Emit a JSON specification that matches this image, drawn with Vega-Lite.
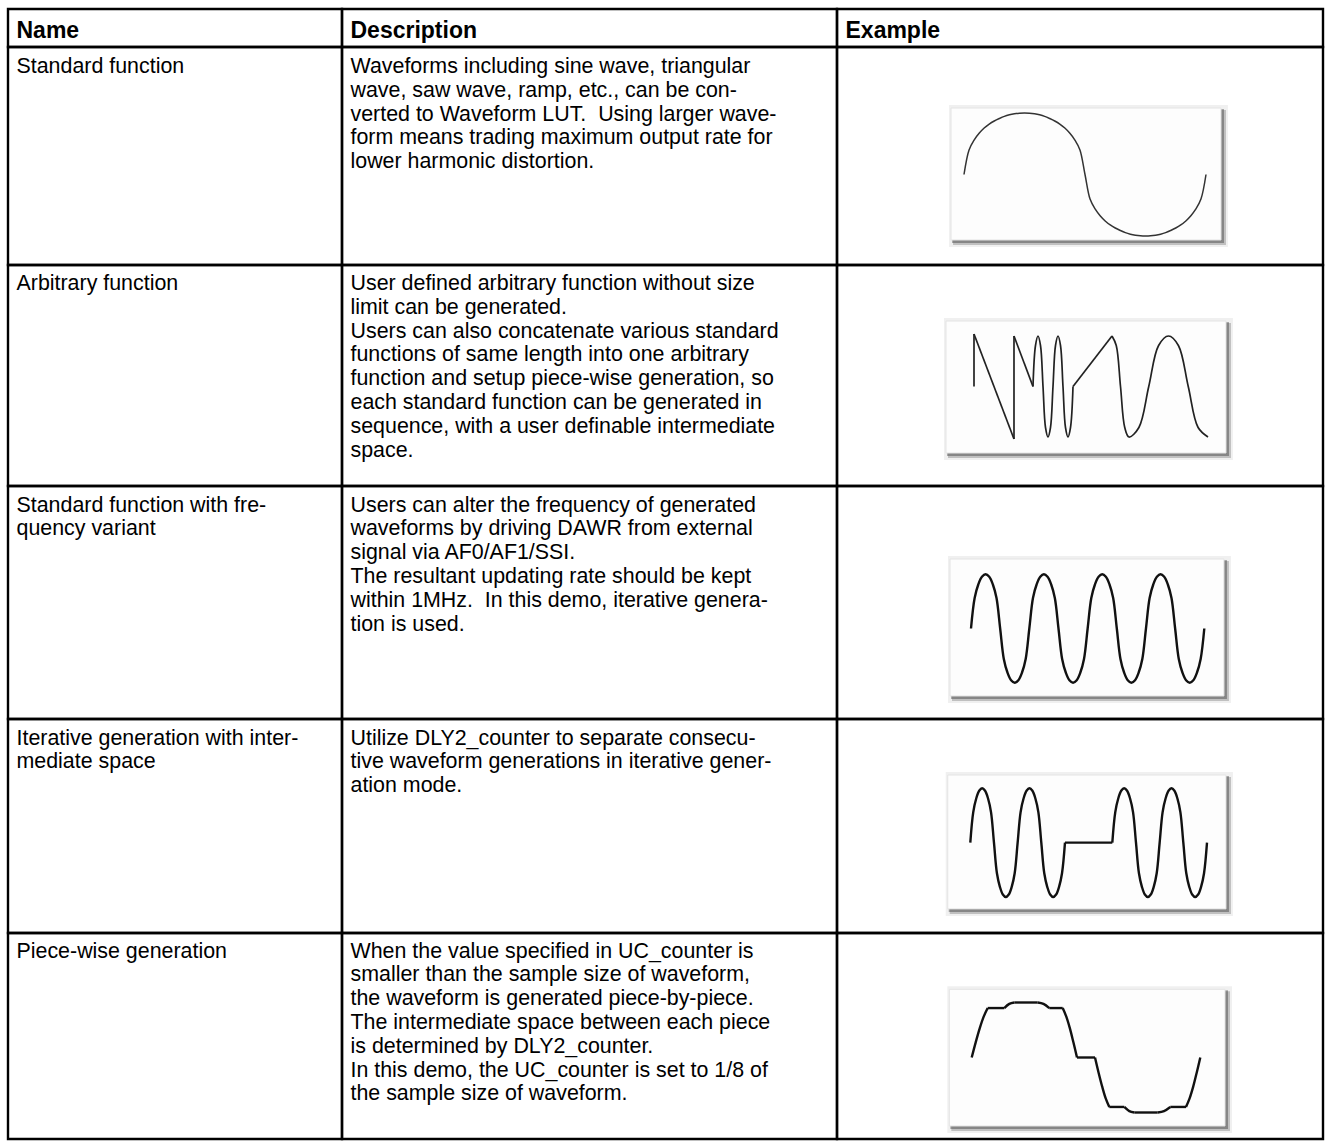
{
  "$schema": "https://vega.github.io/schema/vega-lite/v6.json",
  "background": "white",
  "padding": {"left": 6, "top": 7, "right": 6, "bottom": 6},
  "columns": 3,
  "spacing": 0,
  "bounds": "flush",
  "align": "each",
  "resolve": {"scale": {"x": "independent", "y": "independent"}},
  "config": {
    "view": {"stroke": "#000", "strokeWidth": 2.4},
    "axis": {"disable": true},
    "concat": {"spacing": 0},
    "text": {"font": "Liberation Sans", "fontSize": 21.4, "align": "left", "baseline": "middle", "color": "#000"}
  },
  "datasets": {
    "cells": [
      {"r": 0, "c": "n", "ln": 0, "tx": "Name"},
      {"r": 0, "c": "d", "ln": 0, "tx": "Description"},
      {"r": 0, "c": "e", "ln": 0, "tx": "Example"},
      {"r": 1, "c": "n", "ln": 0, "tx": "Standard function"},
      {"r": 1, "c": "d", "ln": 0, "tx": "Waveforms including sine wave, triangular"},
      {"r": 1, "c": "d", "ln": 1, "tx": "wave, saw wave, ramp, etc., can be con-"},
      {"r": 1, "c": "d", "ln": 2, "tx": "verted to Waveform LUT.\u00a0 Using larger wave-"},
      {"r": 1, "c": "d", "ln": 3, "tx": "form means trading maximum output rate for"},
      {"r": 1, "c": "d", "ln": 4, "tx": "lower harmonic distortion."},
      {"r": 2, "c": "n", "ln": 0, "tx": "Arbitrary function"},
      {"r": 2, "c": "d", "ln": 0, "tx": "User defined arbitrary function without size"},
      {"r": 2, "c": "d", "ln": 1, "tx": "limit can be generated."},
      {"r": 2, "c": "d", "ln": 2, "tx": "Users can also concatenate various standard"},
      {"r": 2, "c": "d", "ln": 3, "tx": "functions of same length into one arbitrary"},
      {"r": 2, "c": "d", "ln": 4, "tx": "function and setup piece-wise generation, so"},
      {"r": 2, "c": "d", "ln": 5, "tx": "each standard function can be generated in"},
      {"r": 2, "c": "d", "ln": 6, "tx": "sequence, with a user definable intermediate"},
      {"r": 2, "c": "d", "ln": 7, "tx": "space."},
      {"r": 3, "c": "n", "ln": 0, "tx": "Standard function with fre-"},
      {"r": 3, "c": "n", "ln": 1, "tx": "quency variant"},
      {"r": 3, "c": "d", "ln": 0, "tx": "Users can alter the frequency of generated"},
      {"r": 3, "c": "d", "ln": 1, "tx": "waveforms by driving DAWR from external"},
      {"r": 3, "c": "d", "ln": 2, "tx": "signal via AF0/AF1/SSI."},
      {"r": 3, "c": "d", "ln": 3, "tx": "The resultant updating rate should be kept"},
      {"r": 3, "c": "d", "ln": 4, "tx": "within 1MHz.\u00a0 In this demo, iterative genera-"},
      {"r": 3, "c": "d", "ln": 5, "tx": "tion is used."},
      {"r": 4, "c": "n", "ln": 0, "tx": "Iterative generation with inter-"},
      {"r": 4, "c": "n", "ln": 1, "tx": "mediate space"},
      {"r": 4, "c": "d", "ln": 0, "tx": "Utilize DLY2_counter to separate consecu-"},
      {"r": 4, "c": "d", "ln": 1, "tx": "tive waveform generations in iterative gener-"},
      {"r": 4, "c": "d", "ln": 2, "tx": "ation mode."},
      {"r": 5, "c": "n", "ln": 0, "tx": "Piece-wise generation"},
      {"r": 5, "c": "d", "ln": 0, "tx": "When the value specified in UC_counter is"},
      {"r": 5, "c": "d", "ln": 1, "tx": "smaller than the sample size of waveform,"},
      {"r": 5, "c": "d", "ln": 2, "tx": "the waveform is generated piece-by-piece."},
      {"r": 5, "c": "d", "ln": 3, "tx": "The intermediate space between each piece"},
      {"r": 5, "c": "d", "ln": 4, "tx": "is determined by DLY2_counter."},
      {"r": 5, "c": "d", "ln": 5, "tx": "In this demo, the UC_counter is set to 1/8 of"},
      {"r": 5, "c": "d", "ln": 6, "tx": "the sample size of waveform."}
    ],
    "w1": [
      {"t": 0, "v": 0}, {"t": 7.5, "v": 0.4}, {"t": 15, "v": 0.56}, {"t": 22.5, "v": 0.67}, {"t": 30, "v": 0.755}, {"t": 37.5, "v": 0.82},
      {"t": 45, "v": 0.87}, {"t": 52.5, "v": 0.91}, {"t": 60, "v": 0.945}, {"t": 67.5, "v": 0.97}, {"t": 75, "v": 0.987}, {"t": 82.5, "v": 0.997},
      {"t": 90, "v": 1}, {"t": 97.5, "v": 0.997}, {"t": 105, "v": 0.987}, {"t": 112.5, "v": 0.97}, {"t": 120, "v": 0.945}, {"t": 127.5, "v": 0.91},
      {"t": 135, "v": 0.87}, {"t": 142.5, "v": 0.82}, {"t": 150, "v": 0.755}, {"t": 157.5, "v": 0.67}, {"t": 165, "v": 0.56}, {"t": 172.5, "v": 0.4},
      {"t": 180, "v": 0}, {"t": 187.5, "v": -0.4}, {"t": 195, "v": -0.56}, {"t": 202.5, "v": -0.67}, {"t": 210, "v": -0.755}, {"t": 217.5, "v": -0.82},
      {"t": 225, "v": -0.87}, {"t": 232.5, "v": -0.91}, {"t": 240, "v": -0.945}, {"t": 247.5, "v": -0.97}, {"t": 255, "v": -0.987}, {"t": 262.5, "v": -0.997},
      {"t": 270, "v": -1}, {"t": 277.5, "v": -0.997}, {"t": 285, "v": -0.987}, {"t": 292.5, "v": -0.97}, {"t": 300, "v": -0.945}, {"t": 307.5, "v": -0.91},
      {"t": 315, "v": -0.87}, {"t": 322.5, "v": -0.82}, {"t": 330, "v": -0.755}, {"t": 337.5, "v": -0.67}, {"t": 345, "v": -0.56}, {"t": 352.5, "v": -0.4},
      {"t": 360, "v": 0}
    ],
    "w2": [
      {"s": 1, "t": 0, "v": 0}, {"s": 1, "t": 0, "v": 1.04},
      {"s": 2, "t": 0, "v": 1.04}, {"s": 2, "t": 17.09, "v": -1.04},
      {"s": 3, "t": 17.09, "v": -1.04}, {"s": 3, "t": 17.09, "v": 1.0},
      {"s": 4, "t": 17.09, "v": 1.0}, {"s": 4, "t": 25.21, "v": 0},
      {"s": 5, "t": 25.21, "v": 0}, {"s": 5, "t": 26.28, "v": 0.812}, {"s": 5, "t": 27.35, "v": 1}, {"s": 5, "t": 28.42, "v": 0.812},
      {"s": 5, "t": 29.49, "v": 0}, {"s": 5, "t": 30.56, "v": -0.812}, {"s": 5, "t": 31.62, "v": -1}, {"s": 5, "t": 32.69, "v": -0.812},
      {"s": 5, "t": 33.76, "v": 0}, {"s": 5, "t": 34.83, "v": 0.812}, {"s": 5, "t": 35.9, "v": 1}, {"s": 5, "t": 36.97, "v": 0.812},
      {"s": 5, "t": 38.03, "v": 0}, {"s": 5, "t": 39.1, "v": -0.812}, {"s": 5, "t": 40.17, "v": -1}, {"s": 5, "t": 41.24, "v": -0.812},
      {"s": 5, "t": 42.31, "v": 0},
      {"s": 6, "t": 42.31, "v": 0}, {"s": 6, "t": 58.97, "v": 1},
      {"s": 7, "t": 58.97, "v": 1}, {"s": 7, "t": 60.79, "v": 0.812}, {"s": 7, "t": 62.61, "v": 0}, {"s": 7, "t": 64.42, "v": -0.812},
      {"s": 7, "t": 66.24, "v": -1}, {"s": 7, "t": 70.47, "v": -0.812}, {"s": 7, "t": 74.68, "v": 0}, {"s": 7, "t": 78.89, "v": 0.812},
      {"s": 7, "t": 83.12, "v": 1}, {"s": 7, "t": 87.35, "v": 0.812}, {"s": 7, "t": 91.56, "v": 0}, {"s": 7, "t": 95.77, "v": -0.812},
      {"s": 7, "t": 100, "v": -1}
    ],
    "w3": [
      {"t": 0, "v": 0}, {"t": 0.0625, "v": 0.562}, {"t": 0.125, "v": 0.812}, {"t": 0.1875, "v": 0.954}, {"t": 0.25, "v": 1}, {"t": 0.3125, "v": 0.954}, {"t": 0.375, "v": 0.812}, {"t": 0.4375, "v": 0.562},
      {"t": 0.5, "v": 0}, {"t": 0.5625, "v": -0.562}, {"t": 0.625, "v": -0.812}, {"t": 0.6875, "v": -0.954}, {"t": 0.75, "v": -1}, {"t": 0.8125, "v": -0.954}, {"t": 0.875, "v": -0.812}, {"t": 0.9375, "v": -0.562},
      {"t": 1, "v": 0}, {"t": 1.0625, "v": 0.562}, {"t": 1.125, "v": 0.812}, {"t": 1.1875, "v": 0.954}, {"t": 1.25, "v": 1}, {"t": 1.3125, "v": 0.954}, {"t": 1.375, "v": 0.812}, {"t": 1.4375, "v": 0.562},
      {"t": 1.5, "v": 0}, {"t": 1.5625, "v": -0.562}, {"t": 1.625, "v": -0.812}, {"t": 1.6875, "v": -0.954}, {"t": 1.75, "v": -1}, {"t": 1.8125, "v": -0.954}, {"t": 1.875, "v": -0.812}, {"t": 1.9375, "v": -0.562},
      {"t": 2, "v": 0}, {"t": 2.0625, "v": 0.562}, {"t": 2.125, "v": 0.812}, {"t": 2.1875, "v": 0.954}, {"t": 2.25, "v": 1}, {"t": 2.3125, "v": 0.954}, {"t": 2.375, "v": 0.812}, {"t": 2.4375, "v": 0.562},
      {"t": 2.5, "v": 0}, {"t": 2.5625, "v": -0.562}, {"t": 2.625, "v": -0.812}, {"t": 2.6875, "v": -0.954}, {"t": 2.75, "v": -1}, {"t": 2.8125, "v": -0.954}, {"t": 2.875, "v": -0.812}, {"t": 2.9375, "v": -0.562},
      {"t": 3, "v": 0}, {"t": 3.0625, "v": 0.562}, {"t": 3.125, "v": 0.812}, {"t": 3.1875, "v": 0.954}, {"t": 3.25, "v": 1}, {"t": 3.3125, "v": 0.954}, {"t": 3.375, "v": 0.812}, {"t": 3.4375, "v": 0.562},
      {"t": 3.5, "v": 0}, {"t": 3.5625, "v": -0.562}, {"t": 3.625, "v": -0.812}, {"t": 3.6875, "v": -0.954}, {"t": 3.75, "v": -1}, {"t": 3.8125, "v": -0.954}, {"t": 3.875, "v": -0.812}, {"t": 3.9375, "v": -0.562},
      {"t": 4, "v": 0}
    ],
    "w4": [
      {"s": 1, "t": 0, "v": 0}, {"s": 1, "t": 0.0625, "v": 0.562}, {"s": 1, "t": 0.125, "v": 0.812}, {"s": 1, "t": 0.1875, "v": 0.954}, {"s": 1, "t": 0.25, "v": 1}, {"s": 1, "t": 0.3125, "v": 0.954}, {"s": 1, "t": 0.375, "v": 0.812}, {"s": 1, "t": 0.4375, "v": 0.562},
      {"s": 1, "t": 0.5, "v": 0}, {"s": 1, "t": 0.5625, "v": -0.562}, {"s": 1, "t": 0.625, "v": -0.812}, {"s": 1, "t": 0.6875, "v": -0.954}, {"s": 1, "t": 0.75, "v": -1}, {"s": 1, "t": 0.8125, "v": -0.954}, {"s": 1, "t": 0.875, "v": -0.812}, {"s": 1, "t": 0.9375, "v": -0.562},
      {"s": 1, "t": 1, "v": 0}, {"s": 1, "t": 1.0625, "v": 0.562}, {"s": 1, "t": 1.125, "v": 0.812}, {"s": 1, "t": 1.1875, "v": 0.954}, {"s": 1, "t": 1.25, "v": 1}, {"s": 1, "t": 1.3125, "v": 0.954}, {"s": 1, "t": 1.375, "v": 0.812}, {"s": 1, "t": 1.4375, "v": 0.562},
      {"s": 1, "t": 1.5, "v": 0}, {"s": 1, "t": 1.5625, "v": -0.562}, {"s": 1, "t": 1.625, "v": -0.812}, {"s": 1, "t": 1.6875, "v": -0.954}, {"s": 1, "t": 1.75, "v": -1}, {"s": 1, "t": 1.8125, "v": -0.954}, {"s": 1, "t": 1.875, "v": -0.812}, {"s": 1, "t": 1.9375, "v": -0.562},
      {"s": 1, "t": 2, "v": 0},
      {"s": 2, "t": 2, "v": 0}, {"s": 2, "t": 3, "v": 0},
      {"s": 3, "t": 3, "v": 0}, {"s": 3, "t": 3.0625, "v": 0.562}, {"s": 3, "t": 3.125, "v": 0.812}, {"s": 3, "t": 3.1875, "v": 0.954}, {"s": 3, "t": 3.25, "v": 1}, {"s": 3, "t": 3.3125, "v": 0.954}, {"s": 3, "t": 3.375, "v": 0.812}, {"s": 3, "t": 3.4375, "v": 0.562},
      {"s": 3, "t": 3.5, "v": 0}, {"s": 3, "t": 3.5625, "v": -0.562}, {"s": 3, "t": 3.625, "v": -0.812}, {"s": 3, "t": 3.6875, "v": -0.954}, {"s": 3, "t": 3.75, "v": -1}, {"s": 3, "t": 3.8125, "v": -0.954}, {"s": 3, "t": 3.875, "v": -0.812}, {"s": 3, "t": 3.9375, "v": -0.562},
      {"s": 3, "t": 4, "v": 0}, {"s": 3, "t": 4.0625, "v": 0.562}, {"s": 3, "t": 4.125, "v": 0.812}, {"s": 3, "t": 4.1875, "v": 0.954}, {"s": 3, "t": 4.25, "v": 1}, {"s": 3, "t": 4.3125, "v": 0.954}, {"s": 3, "t": 4.375, "v": 0.812}, {"s": 3, "t": 4.4375, "v": 0.562},
      {"s": 3, "t": 4.5, "v": 0}, {"s": 3, "t": 4.5625, "v": -0.562}, {"s": 3, "t": 4.625, "v": -0.812}, {"s": 3, "t": 4.6875, "v": -0.954}, {"s": 3, "t": 4.75, "v": -1}, {"s": 3, "t": 4.8125, "v": -0.954}, {"s": 3, "t": 4.875, "v": -0.812}, {"s": 3, "t": 4.9375, "v": -0.562},
      {"s": 3, "t": 5, "v": 0}
    ],
    "w5": [
      {"s": 1, "t": 0, "v": 0}, {"s": 1, "t": 4, "v": 0.276}, {"s": 1, "t": 8, "v": 0.53}, {"s": 1, "t": 12, "v": 0.743}, {"s": 1, "t": 16, "v": 0.899},
      {"s": 2, "t": 16, "v": 0.899}, {"s": 2, "t": 32.6, "v": 0.899},
      {"s": 3, "t": 32.6, "v": 0.899}, {"s": 3, "t": 37.6, "v": 0.974}, {"s": 3, "t": 42.6, "v": 1},
      {"s": 4, "t": 42.6, "v": 1}, {"s": 4, "t": 66, "v": 1},
      {"s": 5, "t": 66, "v": 1}, {"s": 5, "t": 71.8, "v": 0.974}, {"s": 5, "t": 77.6, "v": 0.899},
      {"s": 6, "t": 77.6, "v": 0.899}, {"s": 6, "t": 91, "v": 0.899},
      {"s": 7, "t": 91, "v": 0.899}, {"s": 7, "t": 94.6, "v": 0.743}, {"s": 7, "t": 98.2, "v": 0.53}, {"s": 7, "t": 101.7, "v": 0.276}, {"s": 7, "t": 105.3, "v": 0},
      {"s": 8, "t": 105.3, "v": 0}, {"s": 8, "t": 123.3, "v": 0},
      {"s": 9, "t": 123.3, "v": 0}, {"s": 9, "t": 126.9, "v": -0.276}, {"s": 9, "t": 130.5, "v": -0.53}, {"s": 9, "t": 134, "v": -0.743}, {"s": 9, "t": 137.6, "v": -0.899},
      {"s": 10, "t": 137.6, "v": -0.899}, {"s": 10, "t": 152.6, "v": -0.899},
      {"s": 11, "t": 152.6, "v": -0.899}, {"s": 11, "t": 157.6, "v": -0.974}, {"s": 11, "t": 162.6, "v": -1},
      {"s": 12, "t": 162.6, "v": -1}, {"s": 12, "t": 186, "v": -1},
      {"s": 13, "t": 186, "v": -1}, {"s": 13, "t": 192.3, "v": -0.974}, {"s": 13, "t": 198.6, "v": -0.899},
      {"s": 14, "t": 198.6, "v": -0.899}, {"s": 14, "t": 214.3, "v": -0.899},
      {"s": 15, "t": 214.3, "v": -0.899}, {"s": 15, "t": 217.9, "v": -0.743}, {"s": 15, "t": 221.5, "v": -0.53}, {"s": 15, "t": 225, "v": -0.276}, {"s": 15, "t": 228.6, "v": 0}
    ]
  },
  "concat": [
    {"width": 334, "height": 38, "data": {"name": "cells"}, "transform": [{"filter": "datum.r == 0 && datum.c == 'n'"}],
     "mark": {"type": "text", "dx": 8.5, "fontWeight": "bold", "fontSize": 23},
     "encoding": {"x": {"datum": 0, "type": "quantitative", "scale": {"domain": [0, 1]}, "axis": null},
                  "y": {"field": "ln", "type": "quantitative", "scale": {"domain": [0, 1], "range": [22, 45.8], "nice": false, "zero": false}, "axis": null},
                  "text": {"field": "tx"}}},
    {"width": 495, "height": 38, "data": {"name": "cells"}, "transform": [{"filter": "datum.r == 0 && datum.c == 'd'"}],
     "mark": {"type": "text", "dx": 8.5, "fontWeight": "bold", "fontSize": 23},
     "encoding": {"x": {"datum": 0, "type": "quantitative", "scale": {"domain": [0, 1]}, "axis": null},
                  "y": {"field": "ln", "type": "quantitative", "scale": {"domain": [0, 1], "range": [22, 45.8], "nice": false, "zero": false}, "axis": null},
                  "text": {"field": "tx"}}},
    {"width": 486, "height": 38, "data": {"name": "cells"}, "transform": [{"filter": "datum.r == 0 && datum.c == 'e'"}],
     "mark": {"type": "text", "dx": 8.5, "fontWeight": "bold", "fontSize": 23},
     "encoding": {"x": {"datum": 0, "type": "quantitative", "scale": {"domain": [0, 1]}, "axis": null},
                  "y": {"field": "ln", "type": "quantitative", "scale": {"domain": [0, 1], "range": [22, 45.8], "nice": false, "zero": false}, "axis": null},
                  "text": {"field": "tx"}}},

    {"width": 334, "height": 218, "data": {"name": "cells"}, "transform": [{"filter": "datum.r == 1 && datum.c == 'n'"}],
     "mark": {"type": "text", "dx": 8.5},
     "encoding": {"x": {"datum": 0, "type": "quantitative", "scale": {"domain": [0, 1]}, "axis": null},
                  "y": {"field": "ln", "type": "quantitative", "scale": {"domain": [0, 1], "range": [20, 43.8], "nice": false, "zero": false}, "axis": null},
                  "text": {"field": "tx"}}},
    {"width": 495, "height": 218, "data": {"name": "cells"}, "transform": [{"filter": "datum.r == 1 && datum.c == 'd'"}],
     "mark": {"type": "text", "dx": 8.5},
     "encoding": {"x": {"datum": 0, "type": "quantitative", "scale": {"domain": [0, 1]}, "axis": null},
                  "y": {"field": "ln", "type": "quantitative", "scale": {"domain": [0, 1], "range": [20, 43.8], "nice": false, "zero": false}, "axis": null},
                  "text": {"field": "tx"}}},
    {"width": 486, "height": 218, "layer": [
      {"data": {"values": [{}]}, "mark": {"type": "rect", "fill": "#000", "opacity": 0.06, "xOffset": -2, "x2Offset": 7, "yOffset": -3, "y2Offset": 7},
       "encoding": {"x": {"datum": -19.3, "type": "quantitative", "axis": null}, "x2": {"datum": 382.3}, "y": {"datum": 1.081, "type": "quantitative", "axis": null}, "y2": {"datum": -1.065}}},
      {"data": {"values": [{}]}, "mark": {"type": "rect", "fill": "#000", "opacity": 0.2, "xOffset": 2, "x2Offset": 5, "yOffset": 2, "y2Offset": 5},
       "encoding": {"x": {"datum": -19.3, "type": "quantitative", "axis": null}, "x2": {"datum": 382.3}, "y": {"datum": 1.081, "type": "quantitative", "axis": null}, "y2": {"datum": -1.065}}},
      {"data": {"values": [{}]}, "mark": {"type": "rect", "fill": "#000", "opacity": 0.3, "xOffset": 1, "x2Offset": 3, "yOffset": 1, "y2Offset": 3},
       "encoding": {"x": {"datum": -19.3, "type": "quantitative", "axis": null}, "x2": {"datum": 382.3}, "y": {"datum": 1.081, "type": "quantitative", "axis": null}, "y2": {"datum": -1.065}}},
      {"data": {"values": [{}]}, "mark": {"type": "rect", "fill": "#fdfdfd", "stroke": "#e4e4e4", "strokeWidth": 1},
       "encoding": {"x": {"datum": -19.3, "type": "quantitative", "axis": null}, "x2": {"datum": 382.3}, "y": {"datum": 1.081, "type": "quantitative", "axis": null}, "y2": {"datum": -1.065}}},
      {"data": {"name": "w1"}, "mark": {"type": "line", "interpolate": "catmull-rom", "color": "#333", "strokeWidth": 1.5},
       "encoding": {"x": {"field": "t", "type": "quantitative", "scale": {"domain": [0, 360], "range": [127, 369], "nice": false, "zero": false}, "axis": null},
                    "y": {"field": "v", "type": "quantitative", "scale": {"domain": [-1, 1], "range": [189, 66], "nice": false, "zero": false}, "axis": null}}}
    ]},

    {"width": 334, "height": 221, "data": {"name": "cells"}, "transform": [{"filter": "datum.r == 2 && datum.c == 'n'"}],
     "mark": {"type": "text", "dx": 8.5},
     "encoding": {"x": {"datum": 0, "type": "quantitative", "scale": {"domain": [0, 1]}, "axis": null},
                  "y": {"field": "ln", "type": "quantitative", "scale": {"domain": [0, 1], "range": [19, 42.8], "nice": false, "zero": false}, "axis": null},
                  "text": {"field": "tx"}}},
    {"width": 495, "height": 221, "data": {"name": "cells"}, "transform": [{"filter": "datum.r == 2 && datum.c == 'd'"}],
     "mark": {"type": "text", "dx": 8.5},
     "encoding": {"x": {"datum": 0, "type": "quantitative", "scale": {"domain": [0, 1]}, "axis": null},
                  "y": {"field": "ln", "type": "quantitative", "scale": {"domain": [0, 1], "range": [19, 42.8], "nice": false, "zero": false}, "axis": null},
                  "text": {"field": "tx"}}},
    {"width": 486, "height": 221, "layer": [
      {"data": {"values": [{}]}, "mark": {"type": "rect", "fill": "#000", "opacity": 0.06, "xOffset": -2, "x2Offset": 7, "yOffset": -3, "y2Offset": 7},
       "encoding": {"x": {"datum": -11.97, "type": "quantitative", "axis": null}, "x2": {"datum": 107.69}, "y": {"datum": 1.297, "type": "quantitative", "axis": null}, "y2": {"datum": -1.317}}},
      {"data": {"values": [{}]}, "mark": {"type": "rect", "fill": "#000", "opacity": 0.2, "xOffset": 2, "x2Offset": 5, "yOffset": 2, "y2Offset": 5},
       "encoding": {"x": {"datum": -11.97, "type": "quantitative", "axis": null}, "x2": {"datum": 107.69}, "y": {"datum": 1.297, "type": "quantitative", "axis": null}, "y2": {"datum": -1.317}}},
      {"data": {"values": [{}]}, "mark": {"type": "rect", "fill": "#000", "opacity": 0.3, "xOffset": 1, "x2Offset": 3, "yOffset": 1, "y2Offset": 3},
       "encoding": {"x": {"datum": -11.97, "type": "quantitative", "axis": null}, "x2": {"datum": 107.69}, "y": {"datum": 1.297, "type": "quantitative", "axis": null}, "y2": {"datum": -1.317}}},
      {"data": {"values": [{}]}, "mark": {"type": "rect", "fill": "#fdfdfd", "stroke": "#e4e4e4", "strokeWidth": 1},
       "encoding": {"x": {"datum": -11.97, "type": "quantitative", "axis": null}, "x2": {"datum": 107.69}, "y": {"datum": 1.297, "type": "quantitative", "axis": null}, "y2": {"datum": -1.317}}},
      {"data": {"name": "w2"}, "mark": {"type": "line", "interpolate": "catmull-rom", "color": "#222", "strokeWidth": 1.7},
       "encoding": {"x": {"field": "t", "type": "quantitative", "scale": {"domain": [0, 100], "range": [137, 371], "nice": false, "zero": false}, "axis": null},
                    "y": {"field": "v", "type": "quantitative", "scale": {"domain": [-1, 1], "range": [172, 71], "nice": false, "zero": false}, "axis": null},
                    "detail": {"field": "s"}}}
    ]},

    {"width": 334, "height": 233, "data": {"name": "cells"}, "transform": [{"filter": "datum.r == 3 && datum.c == 'n'"}],
     "mark": {"type": "text", "dx": 8.5},
     "encoding": {"x": {"datum": 0, "type": "quantitative", "scale": {"domain": [0, 1]}, "axis": null},
                  "y": {"field": "ln", "type": "quantitative", "scale": {"domain": [0, 1], "range": [19.5, 43.3], "nice": false, "zero": false}, "axis": null},
                  "text": {"field": "tx"}}},
    {"width": 495, "height": 233, "data": {"name": "cells"}, "transform": [{"filter": "datum.r == 3 && datum.c == 'd'"}],
     "mark": {"type": "text", "dx": 8.5},
     "encoding": {"x": {"datum": 0, "type": "quantitative", "scale": {"domain": [0, 1]}, "axis": null},
                  "y": {"field": "ln", "type": "quantitative", "scale": {"domain": [0, 1], "range": [19.5, 43.3], "nice": false, "zero": false}, "axis": null},
                  "text": {"field": "tx"}}},
    {"width": 486, "height": 233, "layer": [
      {"data": {"values": [{}]}, "mark": {"type": "rect", "fill": "#000", "opacity": 0.06, "xOffset": -2, "x2Offset": 7, "yOffset": -3, "y2Offset": 7},
       "encoding": {"x": {"datum": -0.36, "type": "quantitative", "axis": null}, "x2": {"datum": 4.337}, "y": {"datum": 1.282, "type": "quantitative", "axis": null}, "y2": {"datum": -1.245}}},
      {"data": {"values": [{}]}, "mark": {"type": "rect", "fill": "#000", "opacity": 0.2, "xOffset": 2, "x2Offset": 5, "yOffset": 2, "y2Offset": 5},
       "encoding": {"x": {"datum": -0.36, "type": "quantitative", "axis": null}, "x2": {"datum": 4.337}, "y": {"datum": 1.282, "type": "quantitative", "axis": null}, "y2": {"datum": -1.245}}},
      {"data": {"values": [{}]}, "mark": {"type": "rect", "fill": "#000", "opacity": 0.3, "xOffset": 1, "x2Offset": 3, "yOffset": 1, "y2Offset": 3},
       "encoding": {"x": {"datum": -0.36, "type": "quantitative", "axis": null}, "x2": {"datum": 4.337}, "y": {"datum": 1.282, "type": "quantitative", "axis": null}, "y2": {"datum": -1.245}}},
      {"data": {"values": [{}]}, "mark": {"type": "rect", "fill": "#fdfdfd", "stroke": "#e4e4e4", "strokeWidth": 1},
       "encoding": {"x": {"datum": -0.36, "type": "quantitative", "axis": null}, "x2": {"datum": 4.337}, "y": {"datum": 1.282, "type": "quantitative", "axis": null}, "y2": {"datum": -1.245}}},
      {"data": {"name": "w3"}, "mark": {"type": "line", "interpolate": "catmull-rom", "color": "#111", "strokeWidth": 2.4},
       "encoding": {"x": {"field": "t", "type": "quantitative", "scale": {"domain": [0, 4], "range": [134, 367.3], "nice": false, "zero": false}, "axis": null},
                    "y": {"field": "v", "type": "quantitative", "scale": {"domain": [-1, 1], "range": [196.7, 88.3], "nice": false, "zero": false}, "axis": null}}}
    ]},

    {"width": 334, "height": 214, "data": {"name": "cells"}, "transform": [{"filter": "datum.r == 4 && datum.c == 'n'"}],
     "mark": {"type": "text", "dx": 8.5},
     "encoding": {"x": {"datum": 0, "type": "quantitative", "scale": {"domain": [0, 1]}, "axis": null},
                  "y": {"field": "ln", "type": "quantitative", "scale": {"domain": [0, 1], "range": [19.5, 43.3], "nice": false, "zero": false}, "axis": null},
                  "text": {"field": "tx"}}},
    {"width": 495, "height": 214, "data": {"name": "cells"}, "transform": [{"filter": "datum.r == 4 && datum.c == 'd'"}],
     "mark": {"type": "text", "dx": 8.5},
     "encoding": {"x": {"datum": 0, "type": "quantitative", "scale": {"domain": [0, 1]}, "axis": null},
                  "y": {"field": "ln", "type": "quantitative", "scale": {"domain": [0, 1], "range": [19.5, 43.3], "nice": false, "zero": false}, "axis": null},
                  "text": {"field": "tx"}}},
    {"width": 486, "height": 214, "layer": [
      {"data": {"values": [{}]}, "mark": {"type": "rect", "fill": "#000", "opacity": 0.06, "xOffset": -2, "x2Offset": 7, "yOffset": -3, "y2Offset": 7},
       "encoding": {"x": {"datum": -0.477, "type": "quantitative", "axis": null}, "x2": {"datum": 5.401}, "y": {"datum": 1.244, "type": "quantitative", "axis": null}, "y2": {"datum": -1.219}}},
      {"data": {"values": [{}]}, "mark": {"type": "rect", "fill": "#000", "opacity": 0.2, "xOffset": 2, "x2Offset": 5, "yOffset": 2, "y2Offset": 5},
       "encoding": {"x": {"datum": -0.477, "type": "quantitative", "axis": null}, "x2": {"datum": 5.401}, "y": {"datum": 1.244, "type": "quantitative", "axis": null}, "y2": {"datum": -1.219}}},
      {"data": {"values": [{}]}, "mark": {"type": "rect", "fill": "#000", "opacity": 0.3, "xOffset": 1, "x2Offset": 3, "yOffset": 1, "y2Offset": 3},
       "encoding": {"x": {"datum": -0.477, "type": "quantitative", "axis": null}, "x2": {"datum": 5.401}, "y": {"datum": 1.244, "type": "quantitative", "axis": null}, "y2": {"datum": -1.219}}},
      {"data": {"values": [{}]}, "mark": {"type": "rect", "fill": "#fdfdfd", "stroke": "#e4e4e4", "strokeWidth": 1},
       "encoding": {"x": {"datum": -0.477, "type": "quantitative", "axis": null}, "x2": {"datum": 5.401}, "y": {"datum": 1.244, "type": "quantitative", "axis": null}, "y2": {"datum": -1.219}}},
      {"data": {"name": "w4"}, "mark": {"type": "line", "interpolate": "catmull-rom", "color": "#111", "strokeWidth": 2.4},
       "encoding": {"x": {"field": "t", "type": "quantitative", "scale": {"domain": [0, 5], "range": [133.3, 370], "nice": false, "zero": false}, "axis": null},
                    "y": {"field": "v", "type": "quantitative", "scale": {"domain": [-1, 1], "range": [178, 69.3], "nice": false, "zero": false}, "axis": null},
                    "detail": {"field": "s"}}}
    ]},

    {"width": 334, "height": 206, "data": {"name": "cells"}, "transform": [{"filter": "datum.r == 5 && datum.c == 'n'"}],
     "mark": {"type": "text", "dx": 8.5},
     "encoding": {"x": {"datum": 0, "type": "quantitative", "scale": {"domain": [0, 1]}, "axis": null},
                  "y": {"field": "ln", "type": "quantitative", "scale": {"domain": [0, 1], "range": [18.5, 42.3], "nice": false, "zero": false}, "axis": null},
                  "text": {"field": "tx"}}},
    {"width": 495, "height": 206, "data": {"name": "cells"}, "transform": [{"filter": "datum.r == 5 && datum.c == 'd'"}],
     "mark": {"type": "text", "dx": 8.5},
     "encoding": {"x": {"datum": 0, "type": "quantitative", "scale": {"domain": [0, 1]}, "axis": null},
                  "y": {"field": "ln", "type": "quantitative", "scale": {"domain": [0, 1], "range": [18.5, 42.3], "nice": false, "zero": false}, "axis": null},
                  "text": {"field": "tx"}}},
    {"width": 486, "height": 206, "layer": [
      {"data": {"values": [{}]}, "mark": {"type": "rect", "fill": "#000", "opacity": 0.06, "xOffset": -2, "x2Offset": 7, "yOffset": -3, "y2Offset": 7},
       "encoding": {"x": {"datum": -22.4, "type": "quantitative", "axis": null}, "x2": {"datum": 253.3}, "y": {"datum": 1.24, "type": "quantitative", "axis": null}, "y2": {"datum": -1.245}}},
      {"data": {"values": [{}]}, "mark": {"type": "rect", "fill": "#000", "opacity": 0.2, "xOffset": 2, "x2Offset": 5, "yOffset": 2, "y2Offset": 5},
       "encoding": {"x": {"datum": -22.4, "type": "quantitative", "axis": null}, "x2": {"datum": 253.3}, "y": {"datum": 1.24, "type": "quantitative", "axis": null}, "y2": {"datum": -1.245}}},
      {"data": {"values": [{}]}, "mark": {"type": "rect", "fill": "#000", "opacity": 0.3, "xOffset": 1, "x2Offset": 3, "yOffset": 1, "y2Offset": 3},
       "encoding": {"x": {"datum": -22.4, "type": "quantitative", "axis": null}, "x2": {"datum": 253.3}, "y": {"datum": 1.24, "type": "quantitative", "axis": null}, "y2": {"datum": -1.245}}},
      {"data": {"values": [{}]}, "mark": {"type": "rect", "fill": "#fdfdfd", "stroke": "#e4e4e4", "strokeWidth": 1},
       "encoding": {"x": {"datum": -22.4, "type": "quantitative", "axis": null}, "x2": {"datum": 253.3}, "y": {"datum": 1.24, "type": "quantitative", "axis": null}, "y2": {"datum": -1.245}}},
      {"data": {"name": "w5"}, "mark": {"type": "line", "interpolate": "catmull-rom", "color": "#111", "strokeWidth": 2.4},
       "encoding": {"x": {"field": "t", "type": "quantitative", "scale": {"domain": [0, 228.6], "range": [134.7, 363.3], "nice": false, "zero": false}, "axis": null},
                    "y": {"field": "v", "type": "quantitative", "scale": {"domain": [-1, 1], "range": [179.5, 69.5], "nice": false, "zero": false}, "axis": null},
                    "detail": {"field": "s"}}}
    ]}
  ]
}
